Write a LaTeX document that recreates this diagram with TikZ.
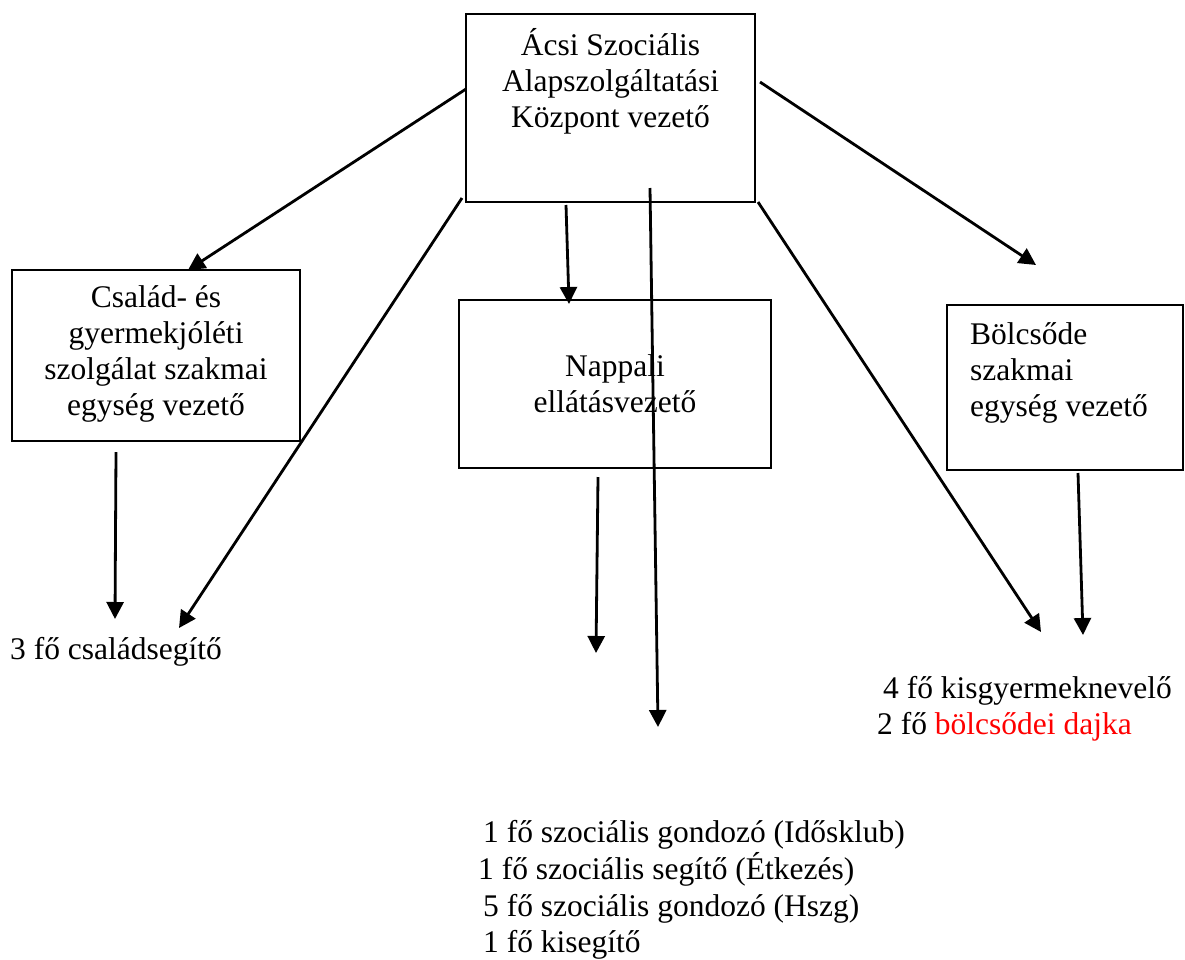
\documentclass[tikz,border=0pt]{standalone}
\usepackage{fontspec}
\setmainfont{Liberation Serif}
\usetikzlibrary{arrows.meta}

\begin{document}
\begin{tikzpicture}[x=1pt,y=-1pt,
    every node/.style={inner sep=0pt, font=\fontsize{31.5}{36}\selectfont},
    box/.style={draw, line width=2.6pt, align=center},
    link/.style={line width=2.8pt, -{Triangle[length=17pt,width=17pt]}}]
    \useasboundingbox (0,0) rectangle (1185,959);
    \node (head) [box, minimum width=289, minimum height=188] at (610.5,108) {};
    \node (headtext) [anchor=north, align=center] at (610.5,28) {Ácsi Szociális\\Alapszolgáltatási\\Központ vezető};
    \node (fam) [box, minimum width=288, minimum height=171] at (156,355.5) {};
    \node (famtext) [anchor=north, align=center] at (156,285) {Család- és\\gyermekjóléti\\szolgálat szakmai\\egység vezető};
    \node (nap) [box, minimum width=312, minimum height=168] at (615,384) {Nappali\\ellátásvezető};
    \node (bol) [box, minimum width=236, minimum height=165] at (1065,387.5) {};
    \node (boltext) [anchor=north west, align=left] at (970,322) {Bölcsőde\\szakmai\\egység vezető};
    \node (csal) [anchor=base west] at (10,659) {3 fő családsegítő};
    \node (kisgy) [anchor=base west] at (883,698) {4 fő kisgyermeknevelő};
    \node (dajka) [anchor=base west] at (877,734) {2 fő \textcolor{red}{bölcsődei dajka}};
    \node (gond1) [anchor=base west] at (483,842) {1 fő szociális gondozó (Idősklub)};
    \node (seg) [anchor=base west] at (478,879) {1 fő szociális segítő (Étkezés)};
    \node (gond2) [anchor=base west] at (483,916) {5 fő szociális gondozó (Hszg)};
    \node (kiseg) [anchor=base west] at (483,952) {1 fő kisegítő};
    \coordinate (h1) at (466,89);
    \coordinate (h2) at (462,198);
    \coordinate (h3) at (566,205);
    \coordinate (h4) at (650,188);
    \coordinate (h5) at (760,82);
    \coordinate (h6) at (758,202);
    \coordinate (f1) at (116,452);
    \coordinate (n1) at (598,477);
    \coordinate (b1) at (1078,473);
    \coordinate (t-fam) at (188,270);
    \coordinate (t-csal1) at (115,619);
    \coordinate (t-csal2) at (179,628);
    \coordinate (t-nap) at (569,304);
    \coordinate (t-nap2) at (596,653);
    \coordinate (t-gond) at (658,727);
    \coordinate (t-bol) at (1036,265);
    \coordinate (t-bol2) at (1041,632);
    \coordinate (t-bol3) at (1083,635);
    \draw [link] (h1) -- (t-fam);
    \draw [link] (h2) -- (t-csal2);
    \draw [link] (h3) -- (t-nap);
    \draw [link] (h4) -- (t-gond);
    \draw [link] (h5) -- (t-bol);
    \draw [link] (h6) -- (t-bol2);
    \draw [link] (f1) -- (t-csal1);
    \draw [link] (n1) -- (t-nap2);
    \draw [link] (b1) -- (t-bol3);
\end{tikzpicture}
\end{document}
